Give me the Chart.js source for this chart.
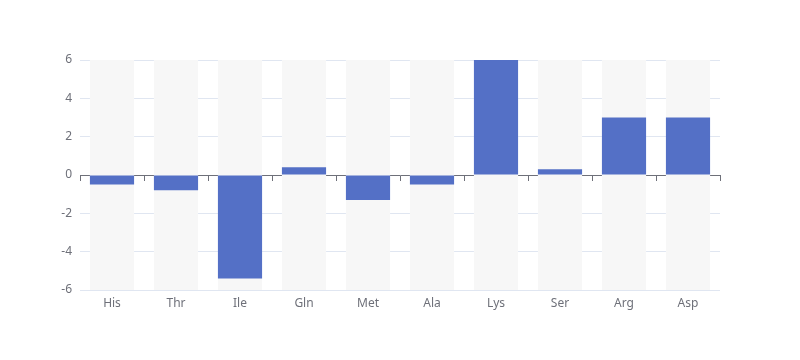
<!DOCTYPE html>
<html>
<head>
<meta charset="utf-8">
<script src="https://cdn.jsdelivr.net/npm/chart.js@4/dist/chart.umd.min.js"></script>
<style>
  html, body { margin: 0; padding: 0; background: #fff; }
  #wrap { width: 800px; height: 360px; }
</style>
</head>
<body>
<div id="wrap"><canvas id="chart"></canvas></div>
<script>
const categories = ['His', 'Thr', 'Ile', 'Gln', 'Met', 'Ala', 'Lys', 'Ser', 'Arg', 'Asp'];
const values = [-0.5, -0.8, -5.4, 0.4, -1.3, -0.5, 6, 0.3, 3, 3];
const yMin = -6;
const yMax = 6;
const yStep = 2;

const axisColor = '#6E7079';
const gridColor = '#E0E6F1';

// background columns span the full value range
const backgroundBars = categories.map(() => [yMin, yMax]);

Chart.defaults.font.family = '"Noto Sans", sans-serif';
Chart.defaults.font.size = 12;
Chart.defaults.color = axisColor;

const ctx = document.getElementById('chart').getContext('2d');
const chart = new Chart(ctx, {
  type: 'bar',
  data: {
    labels: categories,
    datasets: [
      {
        label: 'value',
        data: values,
        backgroundColor: '#5470C6',
        barPercentage: 0.69,
        categoryPercentage: 1,
        grouped: false,
        order: 1
      },
      {
        label: 'bg',
        data: backgroundBars,
        backgroundColor: '#F7F7F7',
        barPercentage: 0.69,
        categoryPercentage: 1,
        grouped: false,
        order: 2
      }
    ]
  },
  options: {
    responsive: true,
    maintainAspectRatio: false,
    animation: false,
    layout: { padding: { left: 0, right: 80, top: 60, bottom: 0 } },
    plugins: {
      legend: { display: false },
      tooltip: { enabled: false }
    },
    scales: {
      x: {
        position: 'bottom',
        grid: { display: false },
        border: { display: false },
        ticks: { padding: -2, color: axisColor },
        afterFit: function(scale) { scale.height = 70; }
      },
      xZero: {
        type: 'category',
        labels: categories,
        position: { y: 0 },
        grid: { display: true, drawOnChartArea: false, drawTicks: true, tickLength: 5, color: axisColor, offset: true },
        border: { display: true, color: axisColor, width: 1 },
        ticks: { display: false }
      },
      y: {
        min: yMin,
        max: yMax,
        grid: { color: gridColor, drawTicks: false },
        border: { display: false },
        ticks: { stepSize: yStep, padding: 8, color: axisColor },
        afterFit: function(scale) { scale.width = 80; }
      }
    }
  }
});
</script>
</body>
</html>
